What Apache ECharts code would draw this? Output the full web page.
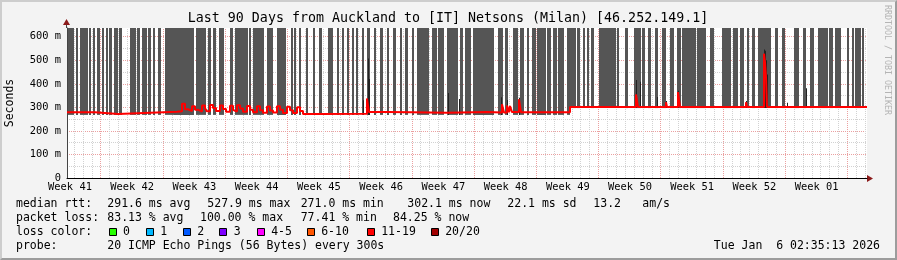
<!DOCTYPE html>
<html>
<head>
<meta charset="utf-8">
<script src="https://cdn.jsdelivr.net/npm/echarts@6/dist/echarts.min.js"></script>
<style>
html,body{margin:0;padding:0;background:#f3f3f3;}
#wrap{position:relative;width:897px;height:260px;background:#f3f3f3;overflow:hidden;}
#chart{position:absolute;left:0;top:0;width:897px;height:260px;}
#frame{position:absolute;left:0;top:0;width:897px;height:260px;box-sizing:border-box;pointer-events:none;
 border-top:2px solid #cdcdcd;border-left:2px solid #cdcdcd;border-bottom:2px solid #9c9c9c;border-right:2px solid #9c9c9c;}
</style>
</head>
<body>
<div id="wrap"><div id="chart"></div><div id="frame"></div></div>
<script>
// ---- data (x = rrd step index, 800 steps over 90 days, 2.7 h each; y = seconds in ms) ----
const titleText = 'Last 90 Days from Auckland to [IT] Netsons (Milan) [46.252.149.1]';
const yMax = 637;
const weekLabels = ['Week 41','Week 42','Week 43','Week 44','Week 45','Week 46','Week 47','Week 48','Week 49','Week 50','Week 51','Week 52','Week 01'];
const weekLabelSteps = [3, 65.2, 127.4, 189.7, 251.9, 314.1, 376.3, 438.6, 500.8, 563, 625.2, 687.4, 749.7];
const weekStartSteps = [33.7, 95.9, 158.1, 220.4, 282.6, 344.8, 407.0, 469.2, 531.5, 593.7, 655.9, 718.1, 780.3];
const stepsPerDay = 8.889;

// smoke bands (high loss, spread clipped above top) [firstStep, lastStep]
const smokeBands = [
 [1,6],[9,10],[13,20],[22,23],[26,27],[30,32],[35,36],[39,40],[42,44],[47,50],[52,54],
 [63,68],[70,72],[75,79],[81,83],[86,87],[91,93],[98,100],[101,106],[107,115],[116,126],
 [129,132],[133,138],[141,143],[146,148],[152,156],[163,165],[168,172],[173,180],[182,183],
 [186,190],[191,196],[200,205],[210,218],[224,225],[227,228],[232,233],
 [239,240],[246,247],[252,254],[261,265],[270,271],[275,276],[280,281],[285,286],[289,290],
 [295,296],[300,302],[307,308],[313,315],[320,321],[326,328],[333,334],[338,340],[345,346],
 [350,357],[358,361],[365,369],[371,376],[380,382],[383,390],[393,395],[398,403],[406,426],
 [431,435],[438,440],[446,450],[453,456],[460,461],[465,468],[470,478],[480,483],[486,489],
 [491,496],[500,502],[503,508],[510,512],
 [516,517],[520,521],[524,526],[532,548],[550,551],[558,560],[567,573],[575,577],[581,583],
 [588,590],[595,598],[603,606],[610,613],[615,620],[621,628],[630,638],[643,646],[655,663],
 [666,670],[673,676],[680,681],[685,687],[691,703],[708,710],[715,717],[727,731],[736,738],
 [743,746],[751,760],[762,765],[768,770],[771,773],[780,781],[785,786],[788,790],[791,793],[795,796]
];
// lower edge of smoke per period [fromStep, ms]
const smokeFloor = [[0,268],[503,297]];
// isolated smoke spikes [step, topMs]
const smokeSpikes = [
 [296,330],[301,508],[302,420],[381,361],[392,335],[434,343],[440,331],[452,341],
 [569,416],[573,409],[590,344],[599,327],[611,371],[679,327],[696,470],[697,546],[698,540],
 [699,500],[700,440],[720,320],[739,381]
];
// median rtt [step, ms], each value holds until the next step
const medianRtt = [
 [0,279],[28,272],[51,278],[90,281],[110,283],[115,315],[118,292],[121,284],[125,305],[128,290],
 [131,282],[135,308],[138,296],[140,283],[143,310],[146,297],[149,284],[153,308],[156,293],
 [159,281],[163,307],[166,289],[168,282],[170,309],[173,295],[176,281],[180,306],[183,290],
 [186,279],[190,305],[193,288],[196,277],[200,304],[203,287],[206,278],[210,305],[213,290],
 [216,276],[220,303],[223,288],[226,276],[230,300],[233,285],[236,272],[253,273],[300,338],
 [302,280],[320,279],[345,277],[380,280],[420,278],[435,313],[437,278],[440,308],[442,279],
 [443,306],[445,280],[452,334],[454,279],[503,302],[569,355],[571,302],[599,322],[600,302],
 [611,365],[613,302],[679,322],[680,302],[697,528],[698,491],[699,428],[700,302],[800,302]
];
// legend / stats texts
const statLabels = ['median rtt:','packet loss:','loss color:','probe:'];
const rttStats = ['291.6 ms avg','527.9 ms max','271.0 ms min','302.1 ms now','22.1 ms sd','13.2','am/s'];
const lossStats = ['83.13 % avg','100.00 % max','77.41 % min','84.25 % now'];
const lossLabels = ['0','1','2','3','4-5','6-10','11-19','20/20'];
const lossColors = ['#26ff00','#00b8ff','#0059ff','#7e00ff','#ff00ff','#ff5500','#ff0000','#a10000'];
const probeText = '20 ICMP Echo Pings (56 Bytes) every 300s';
const dateText = 'Tue Jan  6 02:35:13 2026';

// ---- rendering ----
const MONO = '"DejaVu Sans Mono", monospace';
const MAJOR = '#eba0a0', MINOR = '#d2d2d2';
function floorAt(s){let v=smokeFloor[0][1];for(const f of smokeFloor){if(s>=f[0])v=f[1];}return v;}

const dayLines = [];
weekStartSteps.forEach(w=>{for(let k=-3;k<7;k++){const d=w+k*stepsPerDay;if(k!==0&&d>0.5&&d<800)dayLines.push(d);}});
const vGridMarks = dayLines.map(d=>({xAxis:d, lineStyle:{color:MINOR, type:[1,1], width:1}}))
  .concat(weekStartSteps.map(d=>({xAxis:d, lineStyle:{color:MAJOR, type:[1,1], width:1}})));

const chart = echarts.init(document.getElementById('chart'), null, {renderer:'canvas', width:897, height:260});

const txt = (x,y,s,opt={}) => ({type:'text', x, y, style:Object.assign({text:s, font:'11.5px '+MONO, fill:'#000', textVerticalAlign:'middle'}, opt)});
const graphics = [];
graphics.push(txt(448,19,titleText,{font:'13.3px '+MONO, textAlign:'center'}));
graphics.push({type:'text', x:10, y:103, rotation:Math.PI/2, style:{text:'Seconds', font:'11.5px '+MONO, fill:'#000', textAlign:'center', textVerticalAlign:'middle'}});
graphics.push({type:'text', x:887, y:5, rotation:-Math.PI/2, style:{text:'RRDTOOL / TOBI OETIKER', font:'8.3px '+MONO, fill:'#b4b4b4', textAlign:'left', textVerticalAlign:'middle'}});
// axis extensions + arrows
graphics.push({type:'line', shape:{x1:866,y1:178.5,x2:869,y2:178.5}, style:{stroke:'#000',lineWidth:1}});
graphics.push({type:'polygon', shape:{points:[[867,175],[867,182],[873,178.5]]}, style:{fill:'#8b1a1a'}});
graphics.push({type:'line', shape:{x1:66.5,y1:28,x2:66.5,y2:24}, style:{stroke:'#444',lineWidth:1}});
graphics.push({type:'polygon', shape:{points:[[63,25],[70,25],[66.5,19]]}, style:{fill:'#8b1a1a'}});
// stats rows
const rowY = [204.5, 218.5, 232.5, 246.5];
statLabels.forEach((s,i)=>graphics.push(txt(16,rowY[i],s)));
const rttX = [107.3,207.3,300.7,407.3,507.3,593.3,642.3];
rttStats.forEach((s,i)=>graphics.push(txt(rttX[i],rowY[0],s)));
const lossX = [107.3,200,300.7,393];
lossStats.forEach((s,i)=>graphics.push(txt(lossX[i],rowY[1],s)));
const boxX = [108.5,145.7,182.7,219.3,256.7,306.7,366.7,430.7];
lossLabels.forEach((s,i)=>{
  graphics.push({type:'rect', shape:{x:Math.round(boxX[i])+0.5,y:228.5,width:7,height:7}, style:{fill:lossColors[i],stroke:'#000',lineWidth:1}});
  graphics.push(txt(boxX[i]+14.5,rowY[2],s));
});
graphics.push(txt(107.3,rowY[3],probeText));
graphics.push(txt(880,rowY[3],dateText,{textAlign:'right'}));

const option = {
  animation:false,
  backgroundColor:'transparent',
  grid:{left:67, top:28, width:800, height:150, show:true, backgroundColor:'#ffffff', borderWidth:0},
  xAxis:{type:'value', min:0, max:800,
    axisLine:{show:true, lineStyle:{color:'#000', width:1}},
    axisTick:{show:false},
    splitLine:{show:false},
    axisLabel:{customValues:weekLabelSteps, formatter:(v)=>{const i=weekLabelSteps.findIndex(w=>Math.abs(w-v)<0.01);return i>=0?weekLabels[i]:'';},
      fontFamily:MONO, fontSize:10.4, color:'#000', margin:4}
  },
  yAxis:[
    {type:'value', min:0, max:yMax, interval:50,
     axisLine:{show:true, lineStyle:{color:'#444', width:1}},
     axisTick:{show:false},
     splitLine:{show:true, showMaxLine:false, lineStyle:{color:MINOR, type:[1,1], width:1}},
     axisLabel:{formatter:(v)=>v%100===0?(v===0?'0':v+' m'):'', fontFamily:MONO, fontSize:10.4, color:'#000', margin:6, showMaxLabel:false}
    },
    {type:'value', min:0, max:yMax, interval:100, position:'left',
     axisLine:{show:false}, axisTick:{show:false}, axisLabel:{show:false},
     splitLine:{show:true, showMaxLine:false, showMinLine:false, lineStyle:{color:MAJOR, type:[1,1], width:1}}
    }
  ],
  graphic:graphics,
  series:[
    {type:'line', name:'vgrid', z:1, silent:true, data:[], symbol:'none',
     markLine:{z:1, zlevel:0, silent:true, symbol:['none','none'], label:{show:false}, animation:false, data:vGridMarks}},
    {type:'custom', name:'smoke', z:2, silent:true, data:smokeBands.map(b=>[b[0],b[1],floorAt(b[0])]), encode:{x:[0,1],y:2},
     renderItem:(p,api)=>{const s=api.value(0),e=api.value(1),f=api.value(2);const a=api.coord([s,yMax]);const b=api.coord([e+1,f]);
       return {type:'rect', shape:{x:a[0],y:a[1],width:b[0]-a[0],height:b[1]-a[1]}, style:{fill:'#555555'}};}},
    {type:'custom', name:'spikes', z:3, silent:true, data:smokeSpikes.map(s=>[s[0],s[1],floorAt(s[0])]), encode:{x:0,y:1},
     renderItem:(p,api)=>{const s=api.value(0),t=api.value(1),f=api.value(2);const a=api.coord([s,t]);const b=api.coord([s+1,f]);
       return {type:'rect', shape:{x:a[0],y:a[1],width:b[0]-a[0],height:b[1]-a[1]}, style:{fill:'#222222'}};}},
    {type:'line', name:'median', z:4, silent:true, data:medianRtt, step:'end', showSymbol:false, symbol:'none',
     lineStyle:{color:'#ff0000', width:2}}
  ]
};
chart.setOption(option);
</script>
</body>
</html>
